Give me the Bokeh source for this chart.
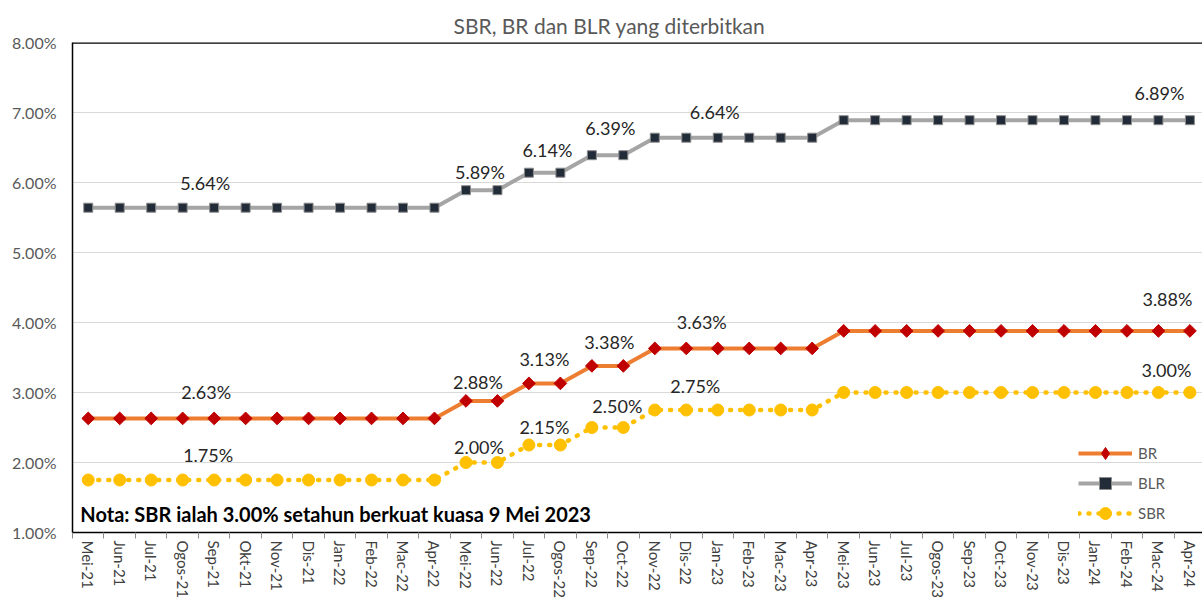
import numpy as np
from bokeh.plotting import figure
from bokeh.models import ColumnDataSource, FixedTicker, PrintfTickFormatter, Span, Label, Legend, LegendItem
from bokeh.embed import file_html
from bokeh.resources import INLINE
from bokeh.core.properties import value

# ---------------- data ----------------
months = ["Mei-21", "Jun-21", "Jul-21", "Ogos-21", "Sep-21", "Okt-21", "Nov-21", "Dis-21",
          "Jan-22", "Feb-22", "Mac-22", "Apr-22", "Mei-22", "Jun-22", "Jul-22", "Ogos-22",
          "Sep-22", "Oct-22", "Nov-22", "Dis-22", "Jan-23", "Feb-23", "Mac-23", "Apr-23",
          "Mei-23", "Jun-23", "Jul-23", "Ogos-23", "Sep-23", "Oct-23", "Nov-23", "Dis-23",
          "Jan-24", "Feb-24", "Mac-24", "Apr-24"]

br = [2.63, 2.63, 2.63, 2.63, 2.63, 2.63, 2.63, 2.63, 2.63, 2.63, 2.63, 2.63,
      2.88, 2.88, 3.13, 3.13, 3.38, 3.38,
      3.63, 3.63, 3.63, 3.63, 3.63, 3.63,
      3.88, 3.88, 3.88, 3.88, 3.88, 3.88, 3.88, 3.88, 3.88, 3.88, 3.88, 3.88]

blr = [5.64, 5.64, 5.64, 5.64, 5.64, 5.64, 5.64, 5.64, 5.64, 5.64, 5.64, 5.64,
       5.89, 5.89, 6.14, 6.14, 6.39, 6.39,
       6.64, 6.64, 6.64, 6.64, 6.64, 6.64,
       6.89, 6.89, 6.89, 6.89, 6.89, 6.89, 6.89, 6.89, 6.89, 6.89, 6.89, 6.89]

sbr = [1.75, 1.75, 1.75, 1.75, 1.75, 1.75, 1.75, 1.75, 1.75, 1.75, 1.75, 1.75,
       2.00, 2.00, 2.25, 2.25, 2.50, 2.50,
       2.75, 2.75, 2.75, 2.75, 2.75, 2.75,
       3.00, 3.00, 3.00, 3.00, 3.00, 3.00, 3.00, 3.00, 3.00, 3.00, 3.00, 3.00]

# data labels (category index of the labelled point, and the text shown)
blr_label_idx = [4, 12, 15, 17, 20, 34]
blr_label_txt = ["5.64%", "5.89%", "6.14%", "6.39%", "6.64%", "6.89%"]
br_label_idx = [4, 12, 15, 17, 20, 34]
br_label_txt = ["2.63%", "2.88%", "3.13%", "3.38%", "3.63%", "3.88%"]
sbr_label_idx = [4, 12, 15, 17, 19, 34]
sbr_label_txt = ["1.75%", "2.00%", "2.15%", "2.50%", "2.75%", "3.00%"]

y_ticks = [1, 2, 3, 4, 5, 6, 7, 8]
title_text = "SBR, BR dan BLR yang diterbitkan"
note_text = "Nota: SBR ialah 3.00% setahun berkuat kuasa 9 Mei 2023"

# ---------------- styling (pixel offsets of data labels) ----------------
blr_xoff = [-9, 14, -13, -13, -3, 1]
blr_yoff = [25, 18, 23, 27, 26, 27]
br_xoff = [-8, 12, -16, -14, -16, 9]
br_yoff = [26, 19, 24, 24, 26, 32]
sbr_xoff = [-6, 13, -16, -6, 9, 8]
sbr_yoff = [25, 16, 18, 22, 24, 23]

FONT = "Lato"

x = list(range(len(months)))

p = figure(width=1202, height=600, x_range=(-0.5, 35.4), y_range=(1, 8),
           output_backend="svg", toolbar_location=None,
           min_border_left=72, min_border_right=0, min_border_top=42, min_border_bottom=66)

p.background_fill_color = "white"
p.border_fill_color = "white"
p.outline_line_color = None

# title
p.title.text = title_text
p.title.align = "left"
p.title.offset = 381
p.title.vertical_align = "top"
p.title.standoff = 6
p.title.text_font = FONT
p.title.text_font_size = "21px"
p.title.text_font_style = "normal"
p.title.text_color = "#595959"

# axes
xa = p.xaxis[0]
xa.ticker = FixedTicker(ticks=x, minor_ticks=[i - 0.5 for i in range(len(months) + 1)])
xa.major_label_overrides = {i: m for i, m in enumerate(months)}
xa.major_label_orientation = "vertical"
xa.major_label_text_font = FONT
xa.major_label_text_font_size = "15px"
xa.major_label_text_color = "#404040"
xa.major_tick_line_color = None
xa.major_tick_out = 5
xa.major_tick_in = 0
xa.major_label_standoff = 2
xa.minor_tick_line_color = "#8C8C8C"
xa.minor_tick_out = 6
xa.minor_tick_in = 0
xa.axis_line_color = "black"
xa.axis_line_width = 1.5

ya = p.yaxis[0]
ya.ticker = FixedTicker(ticks=y_ticks)
ya.formatter = PrintfTickFormatter(format="%.2f%%")
ya.major_label_text_font = FONT
ya.major_label_text_font_size = "16px"
ya.major_label_text_color = "#595959"
ya.major_tick_line_color = None
ya.major_tick_out = 0
ya.major_tick_in = 0
ya.minor_tick_line_color = None
ya.major_label_standoff = 16
ya.axis_line_color = "black"
ya.axis_line_width = 1.5

p.xgrid.grid_line_color = None
p.ygrid.grid_line_color = "#D9D9D9"
p.ygrid.grid_line_width = 1

p.add_layout(Span(location=8, dimension="width", line_color="black", line_width=2.5))

# series
br_line = p.line(x, br, line_color="#ED7D31", line_width=4)
p.scatter(x, br, marker="square", angle=np.pi / 4, size=9,
          fill_color="#C00000", line_color="#C00000")
# off-range marker used only as the legend symbol (a diamond)
br_leg = p.scatter(x=[-20], y=[-20], marker="diamond", size=15,
                   fill_color="#C00000", line_color="#C00000")

blr_line = p.line(x, blr, line_color="#A5A5A5", line_width=4)
blr_pts = p.scatter(x, blr, marker="square", size=9, fill_color="#222B38",
                    line_color="#8C8C8C", line_width=1)

sbr_line = p.line(x, sbr, line_color="#FFC000", line_width=4.5, line_dash="1 9",
                  line_cap="round")
sbr_pts = p.scatter(x, sbr, marker="circle", size=12, fill_color="#FFC000",
                    line_color="#FFC000")

# data labels
def add_labels(idx, vals, txt, xo, yo):
    src = ColumnDataSource(dict(x=idx, y=[vals[i] for i in idx], t=txt,
                                xo=xo, yo=[-v for v in yo]))
    p.text(x="x", y="y", text="t", x_offset="xo", y_offset="yo", source=src,
           text_font=value(FONT), text_font_size=value("18px"),
           text_align="center", text_baseline="middle", text_color="#262626")

add_labels(blr_label_idx, blr, blr_label_txt, blr_xoff, blr_yoff)
add_labels(br_label_idx, br, br_label_txt, br_xoff, br_yoff)
add_labels(sbr_label_idx, sbr, sbr_label_txt, sbr_xoff, sbr_yoff)

# note
p.add_layout(Label(x=-0.25, y=1.26, text=note_text, text_font=FONT,
                   text_font_style="bold", text_font_size="20px",
                   text_color="black", text_baseline="middle"))

# legend
lg = Legend(items=[LegendItem(label="BR", renderers=[br_line, br_leg]),
                   LegendItem(label="BLR", renderers=[blr_line, blr_pts]),
                   LegendItem(label="SBR", renderers=[sbr_line, sbr_pts])])
lg.location = (1006, 4)
lg.padding = 0
lg.margin = 0
lg.spacing = 0
lg.glyph_width = 54
lg.glyph_height = 30
lg.label_standoff = 6
lg.label_text_font = FONT
lg.label_text_font_size = "15px"
lg.label_text_color = "#595959"
lg.background_fill_alpha = 0
lg.border_line_color = None
p.add_layout(lg, "center")

open("out.html", "w").write(file_html(p, INLINE))
